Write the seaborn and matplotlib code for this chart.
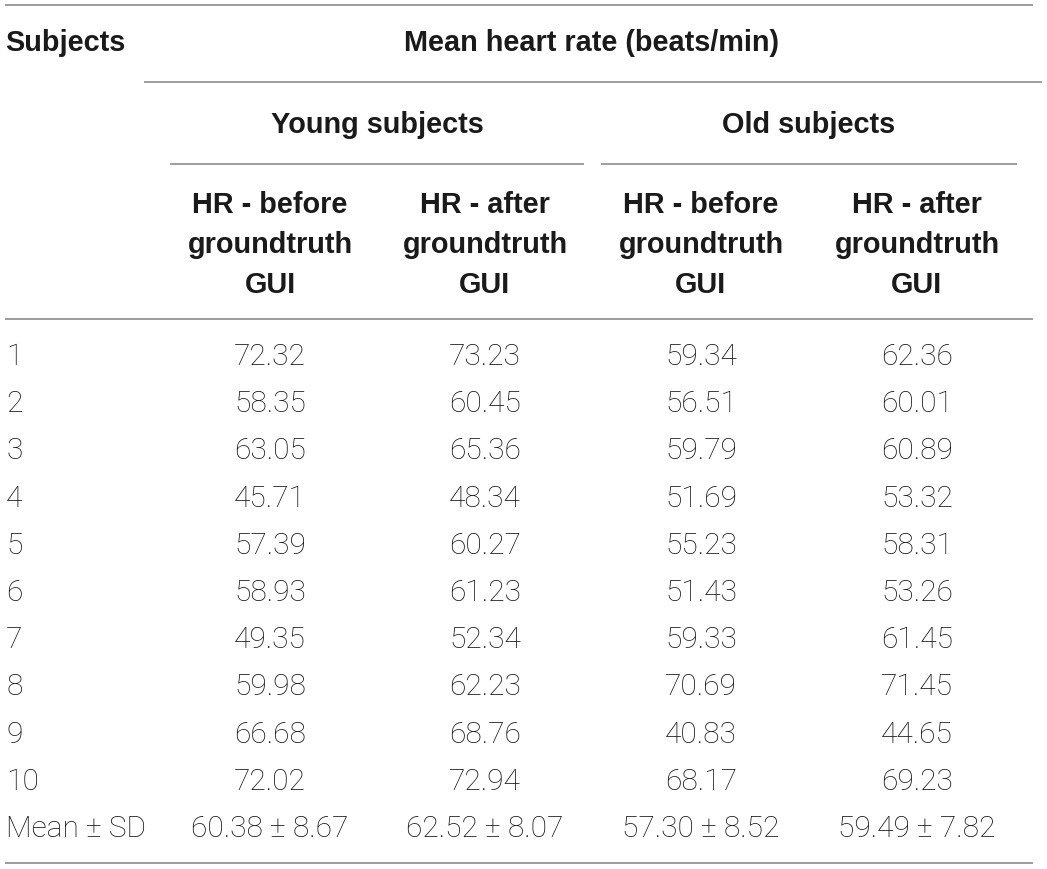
import matplotlib
matplotlib.use("Agg")
import matplotlib.pyplot as plt
import seaborn as sns

sns.set_theme(style="white")
plt.rcParams['font.family'] = ['Liberation Sans', 'DejaVu Sans']

# ---- data ----
subjects = ["1", "2", "3", "4", "5", "6", "7", "8", "9", "10"]
young_before = [72.32, 58.35, 63.05, 45.71, 57.39, 58.93, 49.35, 59.98, 66.68, 72.02]
young_after = [73.23, 60.45, 65.36, 48.34, 60.27, 61.23, 52.34, 62.23, 68.76, 72.94]
old_before = [59.34, 56.51, 59.79, 51.69, 55.23, 51.43, 59.33, 70.69, 40.83, 68.17]
old_after = [62.36, 60.01, 60.89, 53.32, 58.31, 53.26, 61.45, 71.45, 44.65, 69.23]
summary_label = "Mean \u00b1 SD"
summary_mean = [60.38, 62.52, 57.30, 59.49]
summary_sd = [8.67, 8.07, 8.52, 7.82]

title_top = "Mean heart rate (beats/min)"
group_labels = ["Young subjects", "Old subjects"]
col_headers = ["HR - before\ngroundtruth\nGUI", "HR - after\ngroundtruth\nGUI",
               "HR - before\ngroundtruth\nGUI", "HR - after\ngroundtruth\nGUI"]
first_header = "Subjects"

# ---- layout ----
W, H = 1047, 869
fig = plt.figure(figsize=(W / 100, H / 100), dpi=100)
ax = fig.add_axes([0, 0, 1, 1])
ax.set_xlim(0, W)
ax.set_ylim(H, 0)
ax.axis("off")

txt = "#1a1a1a"
rule = "#8c8c8c"
bold = dict(fontfamily="Liberation Sans", fontweight="bold", fontsize=20.8, color=txt)
light = dict(fontfamily=["Roboto", "Liberation Sans"], fontweight="light", fontsize=21.5, color="#111111")

col_x = [270, 485, 701, 917]
group_x = [377, 809]

# rules
lw = 1.2
ax.hlines(5, 5, 1033, color=rule, lw=lw)
ax.hlines(82, 144, 1042, color=rule, lw=lw)
ax.hlines(164, 170, 584, color=rule, lw=lw)
ax.hlines(164, 601, 1017, color=rule, lw=lw)
ax.hlines(319, 5, 1033, color=rule, lw=lw)
ax.hlines(863, 5, 1033, color=rule, lw=lw)

# header text
ax.text(5, 51, first_header, ha="left", va="baseline", **bold)
ax.text(592, 51, title_top, ha="center", va="baseline", **bold)
for gx, g in zip(group_x, group_labels):
    ax.text(gx, 133, g, ha="center", va="baseline", **bold)
for cx, h in zip(col_x, col_headers):
    for k, line in enumerate(h.split("\n")):
        ax.text(cx, 213 + k * 40, line, ha="center", va="baseline", **bold)

# body
columns = [young_before, young_after, old_before, old_after]
y0, dy = 365, 47.2
for i, s in enumerate(subjects):
    y = y0 + i * dy
    ax.text(6, y, s, ha="left", va="baseline", **light)
    for cx, col in zip(col_x, columns):
        ax.text(cx, y, f"{col[i]:.2f}", ha="center", va="baseline", **light)

y = y0 + len(subjects) * dy
ax.text(6, y, summary_label, ha="left", va="baseline", **light)
for cx, m, sd in zip(col_x, summary_mean, summary_sd):
    ax.text(cx, y, f"{m:.2f} \u00b1 {sd:.2f}", ha="center", va="baseline", **light)

fig.savefig("out.png", dpi=100, facecolor="white")
